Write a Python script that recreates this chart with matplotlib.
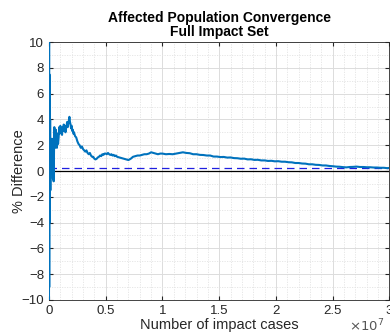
import matplotlib
matplotlib.use('Agg')

import matplotlib.pyplot as plt
import numpy as np
from matplotlib.ticker import MultipleLocator

# --- Data (x in units of 1e7 impact cases, y in % difference) ---
cases = [0.0, 0.001, 0.002, 0.003, 0.004, 0.006, 0.008, 0.010, 0.012, 0.014,
         0.017, 0.020, 0.023, 0.026, 0.029, 0.032, 0.035, 0.038, 0.041, 0.044,
         0.047, 0.050, 0.055, 0.060, 0.065, 0.070, 0.075, 0.080, 0.085, 0.090,
         0.095, 0.100, 0.105, 0.110, 0.115, 0.120, 0.125, 0.130, 0.135, 0.140,
         0.145, 0.150, 0.155, 0.160, 0.165, 0.170, 0.175, 0.180, 0.185, 0.190,
         0.195, 0.200, 0.205, 0.210, 0.215, 0.220, 0.230, 0.240, 0.250, 0.260,
         0.270, 0.280, 0.290, 0.300, 0.310, 0.320, 0.330, 0.340, 0.350, 0.360,
         0.370, 0.380, 0.390, 0.400, 0.410, 0.420, 0.430, 0.440, 0.450, 0.460,
         0.470, 0.480, 0.490, 0.500, 0.510, 0.520, 0.530, 0.540, 0.550, 0.560,
         0.570, 0.580, 0.590, 0.600, 0.620, 0.640, 0.660, 0.680, 0.700, 0.720,
         0.740, 0.760, 0.780, 0.800, 0.820, 0.840, 0.860, 0.880, 0.900, 0.920,
         0.940, 0.960, 0.980, 1.000, 1.030, 1.060, 1.090, 1.120, 1.150, 1.180,
         1.210, 1.240, 1.270, 1.300, 1.330, 1.360, 1.390, 1.420, 1.450, 1.480,
         1.510, 1.540, 1.570, 1.600, 1.630, 1.660, 1.690, 1.720, 1.750, 1.780,
         1.810, 1.840, 1.870, 1.900, 1.930, 1.960, 1.990, 2.020, 2.050, 2.080,
         2.110, 2.140, 2.170, 2.200, 2.230, 2.260, 2.290, 2.320, 2.350, 2.380,
         2.410, 2.440, 2.470, 2.500, 2.530, 2.560, 2.590, 2.620, 2.650, 2.680,
         2.710, 2.740, 2.770, 2.800, 2.830, 2.860, 2.890, 2.920, 2.950, 2.980,
         3.000]
pct_diff = [-10.0, 10.0, -9.0, 7.5, -4.0, 5.6, -2.0, 4.0, -1.5, 2.0,
            0.5, 1.8, -0.2, 2.5, 0.0, 1.9, -0.6, 2.2, -0.8, 1.5,
            3.4, 2.6, 1.8, 3.2, 2.0, 1.8, 2.9, 2.1, 2.6, 3.4,
            2.9, 3.5, 3.0, 3.2, 2.8, 3.4, 3.1, 3.6, 3.2, 3.5,
            3.0, 3.3, 3.5, 3.8, 3.4, 3.7, 3.9, 4.2, 3.8, 3.6,
            3.3, 3.5, 3.1, 3.2, 2.9, 3.0, 2.7, 2.6, 2.3, 2.1,
            2.0, 1.8, 1.9, 1.7, 1.6, 1.5, 1.6, 1.4, 1.3, 1.4,
            1.2, 1.1, 1.1, 0.95, 0.9, 0.95, 1.05, 1.1, 1.2, 1.15,
            1.3, 1.25, 1.35, 1.35, 1.3, 1.4, 1.3, 1.25, 1.3, 1.2,
            1.25, 1.15, 1.2, 1.1, 1.05, 1.0, 0.95, 0.9, 0.85, 0.95,
            1.1, 1.15, 1.2, 1.2, 1.25, 1.3, 1.3, 1.35, 1.45, 1.4,
            1.35, 1.3, 1.35, 1.35, 1.3, 1.32, 1.3, 1.35, 1.4, 1.45,
            1.4, 1.38, 1.3, 1.3, 1.25, 1.24, 1.2, 1.2, 1.12, 1.12,
            1.08, 1.09, 1.04, 1.05, 1.0, 0.99, 0.95, 0.96, 0.9, 0.91,
            0.86, 0.87, 0.82, 0.82, 0.78, 0.79, 0.75, 0.76, 0.72, 0.72,
            0.68, 0.67, 0.62, 0.62, 0.58, 0.57, 0.52, 0.52, 0.48, 0.47,
            0.43, 0.43, 0.39, 0.37, 0.34, 0.33, 0.3, 0.28, 0.31, 0.32,
            0.34, 0.31, 0.31, 0.29, 0.29, 0.27, 0.27, 0.25, 0.25, 0.22,
            0.24]
converged_level = 0.25

# --- Plot ---
plt.rcParams['font.family'] = ['Liberation Sans', 'DejaVu Sans']

fig = plt.figure(figsize=(3.9, 3.35), dpi=100)
ax = fig.add_axes([0.1256, 0.1045, 0.8731, 0.7701])

ax.plot(cases, pct_diff, color='#0072BD', linewidth=1.5, zorder=3)
ax.axhline(converged_level, color='#1f1fe0', linestyle=(0, (6, 4)), linewidth=0.9, zorder=2)
ax.axhline(0, color='black', linewidth=0.9, zorder=2)

ax.set_xlim(0, 3)
ax.set_ylim(-10, 10)
ax.set_xticks(np.arange(0, 3.01, 0.5))
ax.set_xticklabels(['0', '0.5', '1', '1.5', '2', '2.5', '3'])
ax.set_yticks(np.arange(-10, 10.1, 2))
ax.xaxis.set_minor_locator(MultipleLocator(0.1))
ax.yaxis.set_minor_locator(MultipleLocator(1))

ax.grid(True, which='major', color='#dcdcdc', linewidth=0.7)
ax.grid(True, which='minor', color='#e3e3e3', linestyle=(0, (1.5, 1.5)), linewidth=0.6)
ax.set_axisbelow(True)

ax.tick_params(which='both', direction='in', top=True, right=True, colors='#262626',
               labelsize=9.5, length=3)
ax.tick_params(which='minor', length=0)
for s in ax.spines.values():
    s.set_color('#262626')
    s.set_linewidth(0.6)

ax.set_xlabel('Number of impact cases', fontsize=10.5, color='#262626', labelpad=1)
ax.set_ylabel('% Difference', fontsize=10.5, color='#262626', labelpad=-3)
ax.set_title('Affected Population Convergence\nFull Impact Set', fontsize=10,
             fontweight='bold', linespacing=1.0, pad=4)

fig.text(0.985, 0.003, r'$\times10^{7}$', ha='right', va='bottom', fontsize=9.5,
         color='#555555')

plt.savefig('out.png', dpi=100)
